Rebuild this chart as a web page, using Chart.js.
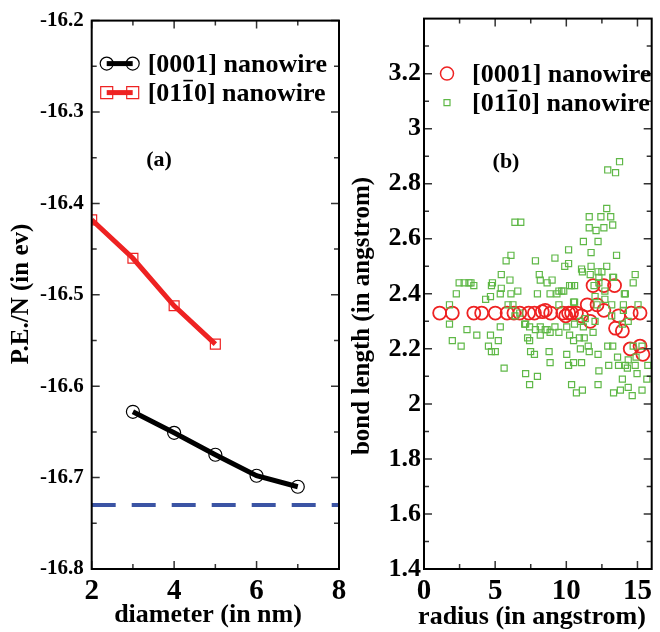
<!DOCTYPE html>
<html>
<head>
<meta charset="utf-8">
<script src="https://cdn.jsdelivr.net/npm/chart.js@4.4.1/dist/chart.umd.min.js"></script>
<style>
    body { margin: 0; background: #fff; }
    #painel { position: relative; width: 660px; height: 632px; }
    #canvas_energia { position: absolute; left: 0; top: 0; }
    #canvas_ligacao { position: absolute; left: 340px; top: 0; }
</style>
</head>
<body>
<div id="painel">
    <canvas id="canvas_energia" width="352" height="632"></canvas>
    <canvas id="canvas_ligacao" width="320" height="632"></canvas>
</div>
<script>
// (a) energia por atomo x diametro do fio
const diametro0001 = [3, 4, 5, 6, 7];
const energia0001 = [-16.628, -16.651, -16.675, -16.698, -16.71];
const diametro0110 = [2, 3, 4, 5];
const energia0110 = [-16.418, -16.46, -16.512, -16.554];
const energiaBulk = -16.73;
const diametroLimites = [2, 8];

const ticksDiametro = [2, 4, 6, 8];
const ticksDiametroMenores = [3, 5, 7];
const ticksEnergia = [-16.8, -16.7, -16.6, -16.5, -16.4, -16.3, -16.2];
const ticksEnergiaMenores = [-16.75, -16.65, -16.55, -16.45, -16.35, -16.25];

// (b) comprimento de ligacao x raio, pares [raio, ligacao]
const ligacoes0001 = [
    [1.10, 2.33], [1.99, 2.33], [3.50, 2.33], [4.05, 2.33], [5.01, 2.33], [5.84, 2.33],
    [6.32, 2.33], [6.73, 2.33], [7.35, 2.33], [7.76, 2.33], [8.31, 2.335], [8.52, 2.34],
    [8.90, 2.33], [9.75, 2.33], [9.96, 2.32], [10.16, 2.33], [10.37, 2.33], [10.71, 2.33],
    [11.07, 2.32], [11.47, 2.36], [11.68, 2.30], [11.88, 2.43], [12.16, 2.36], [12.64, 2.43],
    [12.64, 2.34], [13.39, 2.43], [13.46, 2.275], [13.67, 2.32], [13.94, 2.265], [14.56, 2.33],
    [14.49, 2.20], [15.18, 2.33], [15.18, 2.21], [15.38, 2.18]
];

const ligacoes0110 = [
    [1.79, 2.36], [2.27, 2.40], [2.47, 2.44], [2.82, 2.44], [3.16, 2.44], [3.30, 2.44],
    [3.50, 2.43], [4.33, 2.38], [4.67, 2.39], [4.74, 2.43], [4.81, 2.44], [5.43, 2.47],
    [5.77, 2.52], [6.11, 2.54], [6.04, 2.45], [6.11, 2.40], [6.39, 2.66], [6.80, 2.66],
    [6.59, 2.41], [6.25, 2.36], [5.43, 2.42], [5.36, 2.40], [5.91, 2.36], [7.83, 2.52],
    [7.97, 2.40], [8.10, 2.47], [8.17, 2.45], [8.65, 2.44], [8.86, 2.40], [9.00, 2.45],
    [9.20, 2.53], [9.34, 2.40], [9.68, 2.41], [9.89, 2.50], [10.16, 2.51], [10.16, 2.56],
    [10.37, 2.43], [10.58, 2.43], [11.07, 2.49], [11.20, 2.59], [11.61, 2.64], [11.61, 2.68],
    [11.74, 2.55], [11.74, 2.50], [12.09, 2.63], [12.23, 2.59], [12.43, 2.68], [12.23, 2.48],
    [12.29, 2.46], [12.29, 2.44], [12.64, 2.64], [12.84, 2.71], [12.91, 2.85], [13.12, 2.68],
    [13.26, 2.65], [13.46, 2.84], [13.74, 2.88], [13.53, 2.54], [13.26, 2.46], [12.84, 2.50],
    [12.71, 2.38], [14.15, 2.40], [14.84, 2.47], [14.70, 2.44], [15.04, 2.36], [14.01, 2.36],
    [1.79, 2.29], [1.99, 2.23], [2.61, 2.21], [3.02, 2.27], [3.71, 2.25], [4.53, 2.21],
    [4.67, 2.25], [4.74, 2.19], [5.01, 2.19], [5.22, 2.23], [5.36, 2.28], [5.63, 2.13],
    [6.39, 2.32], [6.73, 2.33], [7.07, 2.29], [7.42, 2.28], [7.42, 2.23], [7.49, 2.19],
    [7.14, 2.11], [7.42, 2.07], [7.97, 2.10], [7.76, 2.18], [7.83, 2.27], [8.17, 2.25],
    [8.52, 2.27], [8.79, 2.19], [8.86, 2.15], [9.20, 2.28], [9.48, 2.26], [10.03, 2.28],
    [10.03, 2.18], [10.16, 2.14], [10.37, 2.07], [10.71, 2.04], [10.51, 2.23], [10.92, 2.24],
    [11.07, 2.15], [11.20, 2.28], [11.26, 2.24], [11.54, 2.21], [11.61, 2.19], [11.88, 2.26],
    [12.23, 2.18], [12.23, 2.07], [12.29, 2.12], [12.91, 2.21], [13.26, 2.21], [13.32, 2.04],
    [13.60, 2.17], [13.67, 2.14], [13.80, 2.05], [13.94, 2.09], [14.15, 2.14], [14.29, 2.13],
    [14.35, 2.06], [14.63, 2.03], [14.70, 2.21], [14.84, 2.14], [14.97, 2.11], [15.32, 2.05],
    [15.66, 2.09], [15.32, 2.21], [14.35, 2.30], [13.94, 2.29],
    [9.48, 2.41], [9.82, 2.41], [10.23, 2.43], [9.48, 2.36], [10.51, 2.37], [7.14, 2.29],
    [8.17, 2.28], [8.65, 2.27], [10.58, 2.29], [7.28, 2.24], [8.86, 2.26], [10.23, 2.25],
    [10.51, 2.15], [11.13, 2.48], [11.68, 2.47], [12.50, 2.48], [13.32, 2.46], [11.95, 2.43],
    [12.02, 2.39], [12.71, 2.41], [14.08, 2.40], [10.58, 2.37], [12.16, 2.36], [13.19, 2.36],
    [10.99, 2.30], [11.33, 2.31], [12.02, 2.30], [13.19, 2.32], [14.01, 2.34], [10.99, 2.20],
    [14.90, 2.17], [12.98, 2.14], [14.35, 2.16], [15.73, 2.14], [11.13, 2.05]
];

const ticksRaio = [0, 5, 10, 15];
const ticksRaioMenores = [2.5, 7.5, 12.5];
const ticksLigacao = [1.4, 1.6, 1.8, 2, 2.2, 2.4, 2.6, 2.8, 3, 3.2];
const ticksLigacaoMenores = [1.5, 1.7, 1.9, 2.1, 2.3, 2.5, 2.7, 2.9, 3.1, 3.3];

const fonte = '"Liberation Serif", "Times New Roman", serif';
const vermelho = '#ee2222';
const verde = '#5fb847';

function pontosXY(xs, ys){
    return xs.map((v, i) => ({x: v, y: ys[i]}));
}

function pontosPares(pares){
    return pares.map(p => ({x: p[0], y: p[1]}));
}

// moldura com marcas de escala para dentro nos quatro lados
const molduraPlugin = {
    id: 'moldura',
    afterDatasetsDraw(chart, args, opts){
        const ctx = chart.ctx;
        const a = chart.chartArea;
        const sx = chart.scales.x;
        const sy = chart.scales.y;

        ctx.save();
        ctx.strokeStyle = '#333';
        ctx.lineWidth = 1.5;
        ctx.beginPath();
        const marcasX = (vals, len) => {
            vals.forEach(v => {
                const px = sx.getPixelForValue(v);
                ctx.moveTo(px, a.bottom); ctx.lineTo(px, a.bottom - len);
                ctx.moveTo(px, a.top); ctx.lineTo(px, a.top + len);
            });
        };
        const marcasY = (vals, len) => {
            vals.forEach(v => {
                const py = sy.getPixelForValue(v);
                ctx.moveTo(a.left, py); ctx.lineTo(a.left + len, py);
                ctx.moveTo(a.right, py); ctx.lineTo(a.right - len, py);
            });
        };
        marcasX(opts.xMaior, 8);
        marcasX(opts.xMenor, 5);
        marcasY(opts.yMaior, 8);
        marcasY(opts.yMenor, 5);
        ctx.stroke();

        ctx.strokeStyle = '#000';
        ctx.lineWidth = 2;
        ctx.strokeRect(a.left, a.top, a.right - a.left, a.bottom - a.top);
        ctx.restore();
    }
};

// titulos dos eixos, rotulo do painel e legenda
const textosPlugin = {
    id: 'textos',
    afterDraw(chart, args, opts){
        const ctx = chart.ctx;
        const a = chart.chartArea;

        ctx.save();
        ctx.fillStyle = '#000';
        ctx.textAlign = 'center';
        ctx.textBaseline = 'middle';
        ctx.font = 'bold 26px ' + fonte;
        ctx.fillText(opts.tituloX, opts.tituloXPos[0], opts.tituloXPos[1]);

        ctx.font = 'bold 25px ' + fonte;
        ctx.save();
        ctx.translate(opts.tituloYPos[0], opts.tituloYPos[1]);
        ctx.rotate(-Math.PI / 2);
        ctx.fillText(opts.tituloY, 0, 0);
        ctx.restore();

        ctx.font = 'bold 22px ' + fonte;
        ctx.fillText(opts.painel, opts.painelPos[0], opts.painelPos[1]);

        ctx.textAlign = 'left';
        ctx.textBaseline = 'alphabetic';
        ctx.font = 'bold 26px ' + fonte;
        opts.legenda.forEach((item, i) => {
            const y = a.top + opts.legendaTopo + i * opts.legendaPasso;
            const x1 = a.left + opts.marcaX[0];
            const x2 = a.left + opts.marcaX[1];

            ctx.strokeStyle = item.cor;
            if(item.linha){
                ctx.lineWidth = 5;
                ctx.beginPath();
                ctx.moveTo(x1, y); ctx.lineTo(x2, y);
                ctx.stroke();
            }
            ctx.lineWidth = item.espessura;
            const marcas = item.linha ? [x1, x2] : [x1];
            marcas.forEach(mx => {
                ctx.beginPath();
                if(item.forma == 'circle'){
                    ctx.arc(mx, y, item.raio, 0, Math.PI * 2);
                } else {
                    ctx.rect(mx - item.raio, y - item.raio, item.raio * 2, item.raio * 2);
                }
                ctx.stroke();
            });

            const tx = a.left + opts.textoX;
            const base = y + 8;
            ctx.fillText(item.texto, tx, base);
            if(item.barra){
                // barra sobre o segundo indice: [0 1 -1 0]
                const b1 = tx + ctx.measureText(item.texto.slice(0, 3)).width;
                const b2 = tx + ctx.measureText(item.texto.slice(0, 4)).width;
                ctx.strokeStyle = '#000';
                ctx.lineWidth = 1.6;
                ctx.beginPath();
                ctx.moveTo(b1 + 1, base - 20); ctx.lineTo(b2 - 1, base - 20);
                ctx.stroke();
            }
        });
        ctx.restore();
    }
};

function escalaX(min, max, ticks){
    return {
        type: 'linear',
        min: min,
        max: max,
        afterBuildTicks: s => { s.ticks = ticks.map(v => ({value: v})); },
        afterFit: s => { s.height = 63; },
        grid: { display: false, drawTicks: false },
        border: { display: false },
        ticks: {
            autoSkip: false,
            maxRotation: 0,
            padding: 5,
            color: '#000',
            font: { family: fonte, size: 29, weight: 'bold' },
        },
    };
}

function escalaY(min, max, ticks, largura, tamanho, padding){
    return {
        type: 'linear',
        min: min,
        max: max,
        afterBuildTicks: s => { s.ticks = ticks.map(v => ({value: v})); },
        afterFit: s => { s.width = largura; },
        grid: { display: false, drawTicks: false },
        border: { display: false },
        ticks: {
            autoSkip: false,
            padding: padding,
            color: '#000',
            font: { family: fonte, size: tamanho, weight: 'bold' },
            callback: v => String(v),
        },
    };
}

const opcoesBase = {
    responsive: false,
    animation: false,
    events: [],
};

window.onload = desenharPaineis();

function desenharPaineis(){
    desenharEnergia();
    desenharLigacao();
}

function desenharEnergia(){
    new Chart(document.getElementById('canvas_energia'), {
        type: 'line',
        data: {
            datasets: [{
                data: pontosXY(diametro0110, energia0110),
                borderColor: vermelho,
                borderWidth: 5,
                pointStyle: 'rect',
                pointRadius: 7,
                pointBorderWidth: 1.2,
                pointBorderColor: vermelho,
                pointBackgroundColor: 'rgba(0,0,0,0)',
            }, {
                data: pontosXY(diametro0001, energia0001),
                borderColor: '#000',
                borderWidth: 5,
                pointStyle: 'circle',
                pointRadius: 6.5,
                pointBorderWidth: 1.2,
                pointBorderColor: '#000',
                pointBackgroundColor: 'rgba(0,0,0,0)',
            }, {
                data: diametroLimites.map(d => ({x: d, y: energiaBulk})),
                borderColor: '#3b54a4',
                borderWidth: 4,
                borderDash: [24, 16],
                pointRadius: 0,
            }],
        },
        options: {
            ...opcoesBase,
            layout: { padding: { top: 17, right: 13, left: 0, bottom: 0 } },
            scales: {
                x: escalaX(2, 8, ticksDiametro),
                y: escalaY(-16.8, -16.2, ticksEnergia, 91.7, 21, 8),
            },
            plugins: {
                legend: { display: false },
                tooltip: { enabled: false },
                moldura: {
                    xMaior: ticksDiametro, xMenor: ticksDiametroMenores,
                    yMaior: ticksEnergia, yMenor: ticksEnergiaMenores,
                },
                textos: {
                    tituloX: 'diameter (in nm)', tituloXPos: [208, 615],
                    tituloY: 'P.E./N (in ev)', tituloYPos: [22, 294],
                    painel: '(a)', painelPos: [159, 160],
                    legendaTopo: 43, legendaPasso: 29,
                    marcaX: [15, 41], textoX: 56,
                    legenda: [
                        { texto: '[0001] nanowire', cor: '#000', linha: true, forma: 'circle', raio: 6.5, espessura: 1.2 },
                        { texto: '[0110] nanowire', cor: vermelho, linha: true, forma: 'rect', raio: 6, espessura: 1.2, barra: true },
                    ],
                },
            },
        },
        plugins: [molduraPlugin, textosPlugin],
    });
}

function desenharLigacao(){
    new Chart(document.getElementById('canvas_ligacao'), {
        type: 'scatter',
        data: {
            datasets: [{
                data: pontosPares(ligacoes0110),
                order: 0,
                pointStyle: 'rect',
                pointRadius: 4.3,
                borderWidth: 1.2,
                borderColor: verde,
                backgroundColor: 'rgba(0,0,0,0)',
            }, {
                data: pontosPares(ligacoes0001),
                order: 1,
                pointStyle: 'circle',
                pointRadius: 6.5,
                borderWidth: 1.8,
                borderColor: vermelho,
                backgroundColor: 'rgba(0,0,0,0)',
            }],
        },
        options: {
            ...opcoesBase,
            layout: { padding: { top: 12, right: 2, left: 0, bottom: 0 } },
            scales: {
                x: escalaX(0, 16, ticksRaio),
                y: escalaY(1.4, 3.4, ticksLigacao, 84, 26, 3),
            },
            plugins: {
                legend: { display: false },
                tooltip: { enabled: false },
                moldura: {
                    xMaior: ticksRaio, xMenor: ticksRaioMenores,
                    yMaior: ticksLigacao, yMenor: ticksLigacaoMenores,
                },
                textos: {
                    tituloX: 'radius (in angstrom)', tituloXPos: [192, 617],
                    tituloY: 'bond length (in angstrom)', tituloYPos: [23, 316],
                    painel: '(b)', painelPos: [166, 162],
                    legendaTopo: 55, legendaPasso: 29,
                    marcaX: [23, 23], textoX: 48,
                    legenda: [
                        { texto: '[0001] nanowire', cor: vermelho, linha: false, forma: 'circle', raio: 6.5, espessura: 1.5 },
                        { texto: '[0110] nanowire', cor: verde, linha: false, forma: 'rect', raio: 3, espessura: 1.2, barra: true },
                    ],
                },
            },
        },
        plugins: [molduraPlugin, textosPlugin],
    });
}
</script>
</body>
</html>
